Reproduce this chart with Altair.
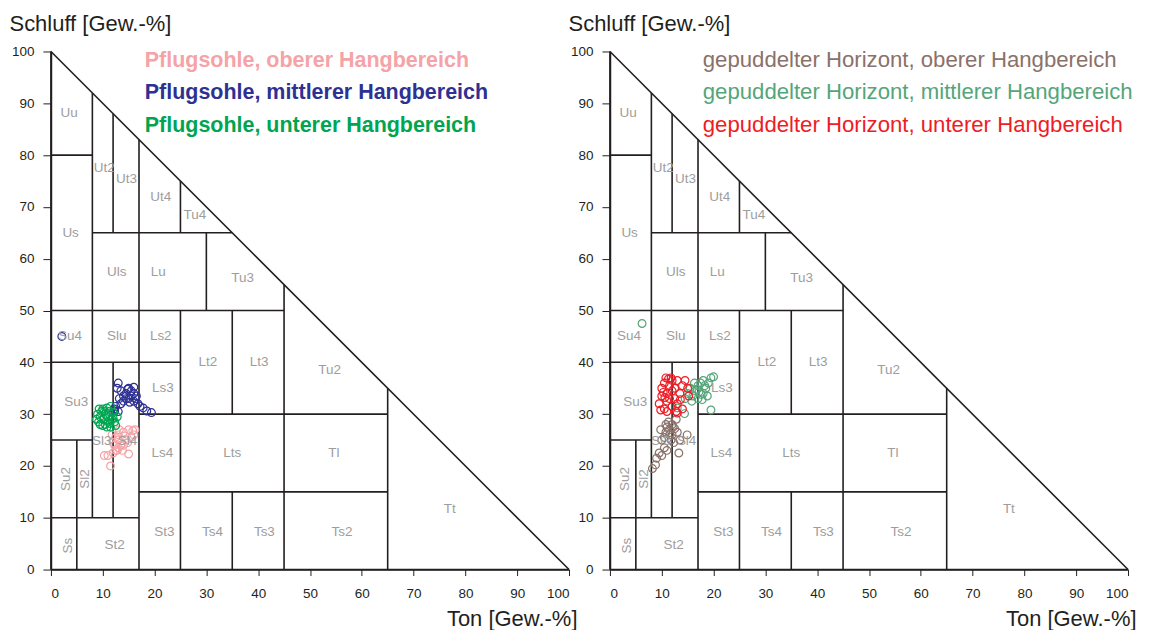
import altair as alt
import pandas as pd

FONT = "Liberation Sans"
LINE = "#231f20"
LABEL_GRAY = "#9d9d9d"

# ---------- class boundaries of the soil texture triangle (Ton, Schluff) ----------
seg_t1 = [0, 0, 0, 5, 8, 12, 12, 17, 25, 25, 30, 35, 35, 45, 65, 0, 17, 0, 17, 0, 0, 8, 0]
seg_u1 = [0, 0, 100, 0, 10, 10, 65, 0, 0, 65, 50, 0, 30, 0, 0, 10, 15, 25, 30, 40, 50, 65, 80]
seg_t2 = [0, 100, 100, 5, 8, 12, 12, 17, 25, 25, 30, 35, 35, 45, 65, 17, 65, 8, 65, 25, 45, 35, 8]
seg_u2 = [100, 0, 0, 25, 92, 40, 88, 83, 50, 75, 65, 15, 50, 55, 35, 10, 15, 25, 30, 40, 50, 65, 80]

# ---------- class labels ----------
lab_name = ["Uu", "Ut2", "Ut3", "Ut4", "Tu4", "Us", "Uls", "Lu", "Tu3", "Su4", "Slu", "Ls2",
            "Lt2", "Lt3", "Tu2", "Su3", "Ls3", "Sl3", "Sl4", "Ls4", "Lts", "Tl", "Su2", "Sl2",
            "Ss", "St2", "St3", "Ts4", "Ts3", "Ts2", "Tt"]
lab_t = [3.5, 10.3, 14.6, 21.2, 27.8, 3.8, 12.7, 20.7, 37.0, 3.7, 12.7, 21.2,
         30.3, 40.2, 53.8, 4.9, 21.6, 9.8, 14.8, 21.5, 35.0, 54.6, 2.9, 6.5,
         3.3, 12.3, 21.9, 31.2, 41.2, 56.2, 77.0]
lab_u = [88.2, 77.5, 75.3, 72.0, 68.4, 65.0, 57.4, 57.4, 56.3, 45.0, 45.0, 45.0,
         40.0, 40.0, 38.5, 32.4, 35.0, 24.9, 24.9, 22.5, 22.5, 22.5, 17.5, 17.5,
         4.6, 4.8, 7.3, 7.3, 7.3, 7.3, 11.6]
lab_vertical = ["Su2", "Sl2", "Ss"]

# ---------- series ----------
s_names = ["Pflugsohle, oberer Hangbereich",
           "Pflugsohle, mittlerer Hangbereich",
           "Pflugsohle, unterer Hangbereich",
           "gepuddelter Horizont, oberer Hangbereich",
           "gepuddelter Horizont, mittlerer Hangbereich",
           "gepuddelter Horizont, unterer Hangbereich"]
s_colors = ["#f5a3a6", "#2e3192", "#00a551", "#8a716a", "#55a57a", "#ee1c25"]

pf_oben_t = [11.5, 10.3, 11.0, 12.0, 15.0, 12.5, 13.0, 13.5, 14.0, 12.0, 13.0, 14.5, 15.5, 16.0,
             16.2, 15.0, 14.0, 13.0, 12.5, 11.8, 12.3, 13.8, 14.8, 15.8, 13.2, 12.8, 14.3]
pf_oben_u = [20.0, 22.0, 22.0, 22.5, 22.3, 23.0, 23.5, 24.0, 24.0, 24.5, 25.0, 25.0, 25.5, 26.0,
             27.0, 27.0, 26.5, 26.0, 25.5, 26.0, 24.0, 23.0, 24.5, 26.8, 27.0, 23.0, 25.8]

pf_mitte_t = [2.1, 13.0, 12.8, 13.5, 14.0, 14.5, 15.0, 15.5, 16.0, 16.5, 15.0, 14.0, 13.5, 12.5,
              12.3, 13.0, 16.0, 16.8, 17.2, 17.8, 18.5, 19.4, 15.5, 14.8, 16.0, 13.2, 12.2, 14.5,
              15.2, 16.3]
pf_mitte_u = [45.0, 36.0, 35.0, 34.5, 33.5, 34.0, 35.0, 34.5, 34.0, 33.5, 33.0, 32.5, 32.0, 31.5,
              30.6, 30.5, 32.5, 32.0, 31.5, 31.2, 30.6, 30.3, 33.5, 34.8, 35.2, 33.0, 31.0, 33.0,
              32.3, 33.0]

pf_unten_t = [8.8, 9.0, 9.2, 9.5, 9.8, 10.0, 10.2, 10.5, 10.5, 10.8, 11.0, 11.0, 11.2, 11.5,
              11.8, 12.0, 12.3, 12.8, 10.0, 9.5, 9.3, 10.3, 11.5, 12.5, 10.8, 12.0, 10.7, 11.4]
pf_unten_u = [29.0, 30.0, 28.5, 29.5, 30.5, 31.0, 29.0, 28.0, 30.0, 31.2, 29.5, 28.5, 30.5, 27.5,
              29.0, 30.3, 28.5, 29.5, 27.8, 28.0, 31.0, 30.5, 31.5, 27.8, 27.5, 29.3, 29.8, 28.2]

gh_oben_t = [8.2, 8.8, 9.0, 9.5, 10.0, 10.5, 11.0, 10.0, 10.5, 10.8, 11.0, 11.5, 11.3, 12.0,
             12.0, 12.5, 12.8, 13.0, 13.3, 13.5, 14.9, 10.8, 11.8, 12.3, 9.8, 11.5, 12.2]
gh_oben_u = [19.5, 20.2, 21.5, 22.5, 22.0, 23.5, 23.0, 25.0, 25.5, 26.5, 27.5, 27.0, 28.5, 26.0,
             28.0, 27.2, 29.0, 26.5, 22.5, 25.0, 26.0, 28.0, 25.0, 24.5, 27.0, 26.0, 27.5]

gh_mitte_t = [6.2, 14.5, 15.0, 15.5, 16.0, 16.5, 17.0, 17.0, 17.5, 18.0, 18.0, 18.5, 19.0, 19.5,
              20.0, 18.8, 17.8, 16.3, 15.8, 19.5, 14.4, 13.0, 17.2, 18.3, 16.8, 17.6]
gh_mitte_u = [47.5, 33.0, 34.0, 35.0, 33.5, 34.5, 35.5, 33.0, 36.0, 34.0, 36.5, 35.0, 36.0, 37.0,
              37.2, 33.5, 32.8, 36.0, 32.5, 30.8, 30.1, 31.2, 34.3, 35.5, 34.8, 33.8]

gh_unten_t = [9.5, 10.0, 10.0, 10.5, 10.5, 11.0, 11.0, 11.0, 11.5, 11.5, 12.0, 12.0, 12.0, 12.5,
              12.5, 13.0, 13.0, 13.5, 14.0, 14.5, 15.0, 15.2, 14.0, 13.0, 9.8, 11.8, 10.8, 12.8,
              10.3, 11.3, 13.6, 10.6]
gh_unten_u = [32.0, 33.5, 35.0, 31.0, 36.0, 32.5, 34.0, 30.5, 35.5, 33.0, 36.5, 34.5, 31.5, 33.0,
              35.0, 36.5, 32.0, 34.0, 35.5, 36.5, 35.0, 33.5, 31.0, 30.2, 30.8, 37.0, 37.0, 30.5,
              34.2, 36.8, 32.8, 33.2]

series_t = [pf_oben_t, pf_mitte_t, pf_unten_t, gh_oben_t, gh_mitte_t, gh_unten_t]
series_u = [pf_oben_u, pf_mitte_u, pf_unten_u, gh_oben_u, gh_mitte_u, gh_unten_u]

# ---------- tables ----------
seg_df = pd.DataFrame({"t1": seg_t1, "u1": seg_u1, "t2": seg_t2, "u2": seg_u2})
lab_df = pd.DataFrame({"name": lab_name, "t": lab_t, "u": lab_u})
lab_h = lab_df[~lab_df["name"].isin(lab_vertical)]
lab_v = lab_df[lab_df["name"].isin(lab_vertical)]


def series_df(idx):
    rows = []
    for i in idx:
        for t, u in zip(series_t[i], series_u[i]):
            rows.append({"series": s_names[i], "t": t, "u": u})
    return pd.DataFrame(rows)


W = 519
H = 519
xs = alt.Scale(domain=[0, 100], nice=False, zero=False)
ys = alt.Scale(domain=[0, 100], nice=False, zero=False)
col_scale = alt.Scale(domain=s_names, range=s_colors)

x_axis = alt.Axis(values=list(range(0, 101, 10)), format="d", grid=False,
                  tickSize=6, labelPadding=11, labelFontSize=13.5,
                  title="Ton [Gew.-%]", titleFontSize=22, titleFontWeight="normal",
                  titleAlign="right", titleBaseline="alphabetic",
                  titleX=527, titleY=56)
y_axis = alt.Axis(values=list(range(0, 101, 10)), format="d", grid=False,
                  tickSize=8, labelPadding=9, labelFontSize=13.5,
                  title="Schluff [Gew.-%]", titleFontSize=22, titleFontWeight="normal",
                  titleAngle=0, titleAlign="left", titleBaseline="alphabetic",
                  titleX=-42, titleY=-21)


def panel(idx, leg_weight, leg_size, leg_x):
    lines = alt.Chart(seg_df).mark_rule(color=LINE, strokeWidth=1.6).encode(
        x=alt.X("t1:Q", scale=xs, axis=x_axis),
        y=alt.Y("u1:Q", scale=ys, axis=y_axis),
        x2="t2:Q",
        y2="u2:Q",
    )
    pts = alt.Chart(series_df(idx)).mark_point(
        shape="circle", filled=False, size=60, strokeWidth=1.2, opacity=1
    ).encode(
        x=alt.X("t:Q", scale=xs),
        y=alt.Y("u:Q", scale=ys),
        color=alt.Color("series:N", scale=col_scale, legend=None),
    )
    labels_h = alt.Chart(lab_h).mark_text(
        font=FONT, fontSize=13.5, color=LABEL_GRAY, align="center", baseline="middle"
    ).encode(x=alt.X("t:Q", scale=xs), y=alt.Y("u:Q", scale=ys), text="name:N")
    labels_v = alt.Chart(lab_v).mark_text(
        font=FONT, fontSize=13.5, color=LABEL_GRAY, align="center", baseline="middle", angle=270
    ).encode(x=alt.X("t:Q", scale=xs), y=alt.Y("u:Q", scale=ys), text="name:N")
    layers = [lines, pts, labels_h, labels_v]
    for k, i in enumerate(idx):
        layers.append(
            alt.Chart(pd.DataFrame({"name": [s_names[i]]})).mark_text(
                font=FONT, fontSize=leg_size, fontWeight=leg_weight, color=s_colors[i],
                align="left", baseline="alphabetic"
            ).encode(x=alt.value(leg_x), y=alt.value(15.5 + 32.5 * k), text="name:N")
        )
    return alt.layer(*layers).properties(width=W, height=H)


p1 = panel([0, 1, 2], "bold", 21.5, 94)
p2 = panel([3, 4, 5], "normal", 22.2, 93)

chart = alt.hconcat(p1, p2, spacing=41, bounds="flush").properties(
    padding={"left": 1, "top": 4, "right": 5, "bottom": 2}
).configure_view(stroke=None).configure_axis(
    domainColor=LINE, tickColor=LINE, labelColor=LINE, titleColor=LINE,
    labelFont=FONT, titleFont=FONT, domainWidth=1.6, tickWidth=1
)

chart.save("out.html", embed_options={"renderer": "svg", "actions": False})
